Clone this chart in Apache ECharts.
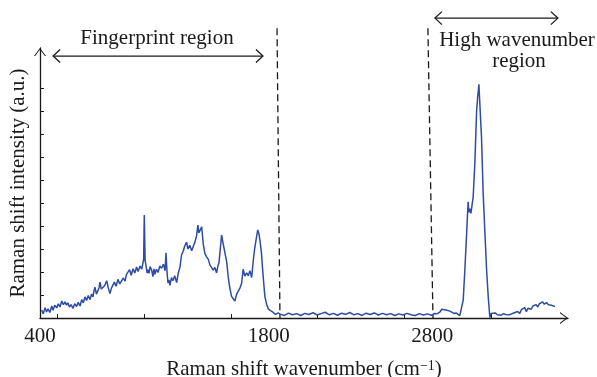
<!DOCTYPE html>
<html>
<head>
<meta charset="utf-8">
<script src="https://cdn.jsdelivr.net/npm/echarts@6/dist/echarts.min.js"></script>
<style>
  html, body { margin: 0; padding: 0; background: #fff; }
  #chart { width: 597px; height: 377px; }
</style>
</head>
<body>
<div id="chart"></div>
<script>
// spectrum (x in cm^-1, y in axis tick units)
const wavenumbers = [
  410, 420, 431, 440, 449, 460, 472, 480, 490, 502, 512, 522, 533, 543, 553, 562, 571, 580, 590, 602,
  612, 624, 634, 645, 655, 665, 675, 685, 695, 706, 715, 724, 730, 736, 745, 755, 761, 767, 775, 785,
  795, 808, 818, 828, 837, 846, 855, 865, 877, 888, 900, 910, 920, 929, 938, 948, 958, 969, 980, 991,
  1000, 1012, 1022, 1030, 1034, 1038, 1043, 1048, 1055, 1061, 1067, 1073, 1083, 1091, 1097, 1103, 1112, 1122, 1133, 1144,
  1155, 1165, 1171, 1177, 1183, 1189, 1195, 1204, 1213, 1224, 1236, 1246, 1256, 1266, 1276, 1286, 1297, 1305, 1316, 1328,
  1338, 1348, 1358, 1366, 1372, 1379, 1389, 1399, 1409, 1419, 1429, 1440, 1450, 1460, 1470, 1480, 1489, 1495, 1501, 1511,
  1516, 1521, 1531, 1542, 1552, 1562, 1572, 1582, 1592, 1603, 1613, 1623, 1633, 1643, 1653, 1664, 1674, 1684, 1695, 1705,
  1713, 1721, 1732, 1740, 1746, 1755, 1762, 1770, 1776, 1786, 1796, 1810, 1827, 1840, 1857,
  1870, 1895, 1920, 1945, 1970, 1995, 2020, 2045, 2070, 2095, 2120, 2145, 2170, 2195, 2220, 2245, 2270, 2295, 2320, 2345,
  2370, 2395, 2420, 2445, 2470, 2495, 2520, 2545, 2570, 2595, 2620, 2645, 2670, 2695, 2720, 2745, 2770, 2795,
  2815, 2828, 2846, 2858, 2870, 2883, 2895, 2908, 2920, 2932, 2945, 2956, 2968, 2979, 2989, 2999, 3009, 3019, 3024, 3030,
  3036, 3040, 3050, 3060, 3071, 3077, 3082, 3085, 3088, 3091, 3101, 3111, 3121, 3132, 3142, 3152, 3160, 3172, 3185, 3198,
  3210, 3222, 3235, 3248, 3260, 3272, 3285, 3298, 3310, 3322, 3335, 3345, 3354, 3365, 3375, 3385, 3395, 3405, 3415, 3425,
  3435, 3445, 3455, 3465, 3475, 3485, 3499, 3510, 3520, 3530, 3540, 3550
];
const intensities = [
  0.35, 0.18, 0.45, 0.26, 0.40, 0.24, 0.52, 0.34, 0.56, 0.44, 0.62, 0.48, 0.74, 0.58, 0.70, 0.56, 0.66, 0.48, 0.58, 0.42,
  0.62, 0.50, 0.68, 0.52, 0.80, 0.66, 0.92, 0.76, 0.98, 0.80, 1.04, 0.92, 1.18, 1.34, 1.04, 1.20, 1.32, 1.56, 1.26, 1.34,
  1.40, 1.62, 1.30, 1.06, 1.30, 1.22, 1.56, 1.38, 1.68, 1.48, 1.40, 1.74, 1.60, 1.90, 1.82, 2.10, 1.86, 2.14, 1.96, 2.22,
  2.02, 2.26, 2.12, 2.40, 2.55, 4.48, 2.50, 2.30, 1.96, 2.10, 1.94, 2.24, 2.08, 1.80, 2.14, 1.90, 2.12, 1.98, 2.26, 2.16,
  2.34, 2.06, 2.83, 2.00, 1.52, 1.66, 1.42, 1.76, 1.62, 1.84, 1.54, 1.96, 2.20, 2.74, 2.90, 3.14, 3.30, 3.00, 3.16, 2.92,
  3.12, 3.30, 3.58, 4.04, 3.70, 3.64, 3.97, 3.20, 2.80, 2.66, 2.56, 2.30, 2.22, 2.08, 2.20, 1.96, 2.28, 2.40, 2.86, 3.61,
  3.40, 3.46, 2.84, 2.44, 1.74, 1.28, 0.94, 0.90, 0.74, 1.04, 0.96, 1.30, 1.50, 2.12, 1.82, 1.96, 1.84, 2.06, 1.76, 2.52,
  3.00, 3.36, 3.83, 3.64, 3.34, 2.80, 2.09, 1.40, 0.93, 0.60, 0.40, 0.32, 0.24, 0.16, 0.22,
  0.17, 0.11, 0.21, 0.14, 0.19, 0.11, 0.20, 0.15, 0.23, 0.13, 0.19, 0.25, 0.14, 0.20, 0.12, 0.21, 0.16, 0.24, 0.14, 0.19,
  0.11, 0.21, 0.15, 0.22, 0.13, 0.20, 0.14, 0.19, 0.11, 0.18, 0.13, 0.20, 0.14, 0.11, 0.19, 0.13, 0.18, 0.12,
  0.20, 0.18, 0.26, 0.38, 0.43, 0.35, 0.40, 0.30, 0.28, 0.20, 0.22, 0.15, 0.10, 0.13, 0.78, 2.09, 3.53, 5.05, 4.60, 4.75,
  4.55, 4.60, 5.27, 6.70, 9.00, 9.58, 9.90, 10.16, 9.70, 9.74, 7.84, 5.43, 3.83, 2.09, 0.93, 0.02, 0.20, 0.16, 0.22, 0.14,
  0.18, 0.12, 0.19, 0.15, 0.20, 0.14, 0.18, 0.22, 0.15, 0.28, 0.20, 0.36, 0.30, 0.45, 0.28, 0.42, 0.50, 0.38, 0.52, 0.44,
  0.58, 0.48, 0.62, 0.55, 0.70, 0.60, 0.67, 0.58, 0.66, 0.55, 0.62, 0.50
];

const xLabelValues = [400, 1800, 2800];
const xTickValues = [505, 1036, 1568, 2099, 2631, 3162];
const yTickValues = [1, 2, 3, 4, 5, 6, 7, 8, 9, 10];

// region dividers: [x at top, x at bottom], slightly slanted like the scan
const dividerTop = 12.6;
const dividers = [[1850, 1868], [2773, 2804]];
// double arrows: [from, to, height]
const fingerprintArrow = [480, 1764, 11.39];
const highArrow = [2816, 3568, 13.04];

const FONT = 'Liberation Serif';
const INK = '#1a1a1a';
const axisChevron = 'path://M0,8 L6,0 L12,8 L10.8,8 L6,1.6 L1.2,8 Z';

const chart = echarts.init(document.getElementById('chart'));

const option = {
  animation: false,
  backgroundColor: '#fff',
  grid: { left: 40, right: 29, top: 48, bottom: 59, outerBoundsMode: 'none' },
  xAxis: {
    type: 'value',
    min: 400,
    max: 3630,
    name: 'Raman shift wavenumber (cm{sup|\u22121})',
    nameLocation: 'middle',
    nameGap: 41,
    nameTextStyle: {
      fontFamily: FONT, fontSize: 21, color: INK,
      rich: { sup: { fontFamily: FONT, fontSize: 14, color: INK, verticalAlign: 'top', padding: [0, 0, 4, 0] } }
    },
    axisLine: {
      lineStyle: { color: INK, width: 1.3 },
      symbol: ['none', axisChevron],
      symbolSize: [12, 8],
      symbolOffset: [0, -4]
    },
    axisTick: { inside: true, length: 4, customValues: xTickValues, lineStyle: { color: INK, width: 1 } },
    axisLabel: {
      customValues: xLabelValues, margin: 8, fontFamily: FONT, fontSize: 21, color: INK,
      formatter: v => String(v)
    },
    splitLine: { show: false }
  },
  yAxis: {
    type: 'value',
    min: 0,
    max: 11.74,
    name: 'Raman shift intensity (a.u.)',
    nameLocation: 'middle',
    nameGap: 11,
    nameTextStyle: { fontFamily: FONT, fontSize: 21, color: INK },
    axisLine: {
      show: true,
      lineStyle: { color: INK, width: 1.3 },
      symbol: ['none', axisChevron],
      symbolSize: [12, 8],
      symbolOffset: [0, -4]
    },
    axisTick: { show: true, inside: true, length: 4, customValues: yTickValues, lineStyle: { color: INK, width: 1 } },
    axisLabel: { show: false },
    splitLine: { show: false }
  },
  series: [
    {
      type: 'line',
      data: wavenumbers.map((w, i) => [w, intensities[i]]),
      showSymbol: false,
      clip: false,
      silent: true,
      lineStyle: { color: '#2d4ca3', width: 1.5 }
    }
  ]
};

chart.setOption(option);

// annotations sit partly above the axis range, so place them from data coords by hand
const toPx = (x, y) => chart.convertToPixel({ gridIndex: 0 }, [x, y]);
const font = '21px "' + FONT + '"';

function doubleArrow(a) {
  const p0 = toPx(a[0], a[2]);
  const p1 = toPx(a[1], a[2]);
  const head = (p, dir) => ({
    type: 'polyline',
    shape: { points: [[p[0] + dir * 7, p[1] - 6.5], [p[0], p[1]], [p[0] + dir * 7, p[1] + 6.5]] },
    style: { stroke: INK, lineWidth: 1.3, fill: null }
  });
  return [
    { type: 'line', shape: { x1: p0[0], y1: p0[1], x2: p1[0], y2: p1[1] }, style: { stroke: INK, lineWidth: 1.3 } },
    head(p0, 1),
    head(p1, -1)
  ];
}

const graphics = [];
dividers.forEach(d => {
  const top = toPx(d[0], dividerTop);
  const bottom = toPx(d[1], 0);
  graphics.push({
    type: 'line',
    shape: { x1: top[0], y1: top[1], x2: bottom[0], y2: bottom[1] },
    style: { stroke: INK, lineWidth: 1.3, lineDash: [7, 4] }
  });
});
graphics.push(...doubleArrow(fingerprintArrow), ...doubleArrow(highArrow));
graphics.push(
  { type: 'text', x: 157, y: 38, style: { text: 'Fingerprint region', font: font, fill: INK, align: 'center', verticalAlign: 'middle' } },
  { type: 'text', x: 517, y: 40, style: { text: 'High wavenumber', font: font, fill: INK, align: 'center', verticalAlign: 'middle' } },
  { type: 'text', x: 519, y: 61, style: { text: 'region', font: font, fill: INK, align: 'center', verticalAlign: 'middle' } }
);

chart.setOption({ graphic: graphics });
</script>
</body>
</html>
